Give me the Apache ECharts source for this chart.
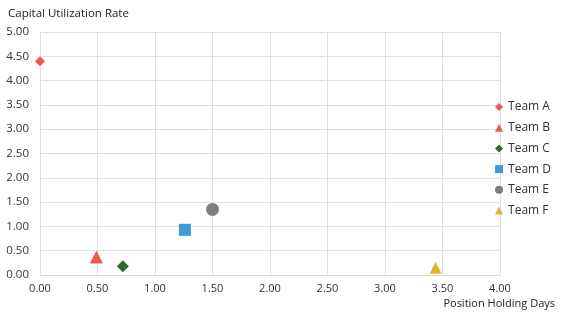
<!DOCTYPE html>
<html><head><meta charset="utf-8">
<script src="https://cdn.jsdelivr.net/npm/echarts@6/dist/echarts.min.js"></script>
<style>html,body{margin:0;padding:0;background:#fff}#c{width:562px;height:316px}</style>
</head><body><div id="c"></div>
<script>
const teams = ["Team A","Team B","Team C","Team D","Team E","Team F"];
const holdingDays = [0.00, 0.49, 0.72, 1.26, 1.50, 3.44];
const utilization = [4.40, 0.37, 0.18, 0.93, 1.35, 0.15];
const symbols = ["diamond","triangle","diamond","rect","circle","triangle"];
const sizes = [10, 13, 12, 12, 13, 12];
const colors = ["#EB5A50","#EB5A50","#2F6B2F","#3C9AD8","#808080","#E9B12F"];
const xTicks = {min:0, max:4, interval:0.5};
const yTicks = {min:0, max:5, interval:0.5};

const series = teams.map((t,i)=>({
  name:t, type:'scatter', symbol:symbols[i], symbolSize:sizes[i],
  itemStyle:{color:colors[i], opacity:1},
  data:[[holdingDays[i], utilization[i]]]
}));

const chart = echarts.init(document.getElementById('c'));
chart.setOption({
  animation:false,
  textStyle:{fontFamily:'"Open Sans", "Liberation Sans", sans-serif'},
  grid:{left:40, right:62, top:32, bottom:41},
  legend:{
    orient:'vertical', right:6, top:95, itemGap:6.7, itemWidth:8, itemHeight:8,
    textStyle:{color:'#333', fontSize:12, lineHeight:14},
    data:teams.map((t,i)=>({name:t, icon:symbols[i]}))
  },
  xAxis:{
    type:'value', min:xTicks.min, max:xTicks.max, interval:xTicks.interval,
    name:'Position Holding Days', nameLocation:'end', nameGap:0,
    nameTextStyle:{color:'#222', fontSize:11, align:'right', verticalAlign:'top', padding:[23,-55,0,0]},
    axisLine:{show:true, lineStyle:{color:'#d9d9d9'}},
    axisTick:{show:false},
    axisLabel:{color:'#333', fontSize:11, formatter:v=>v.toFixed(2), margin:8},
    splitLine:{show:true, lineStyle:{color:'#e0e0e0'}}
  },
  yAxis:{
    type:'value', min:yTicks.min, max:yTicks.max, interval:yTicks.interval,
    name:'Capital Utilization Rate', nameLocation:'end', nameGap:12,
    nameTextStyle:{color:'#222', fontSize:11.5, align:'left', padding:[0,0,0,-32]},
    axisLine:{show:false},
    axisTick:{show:false},
    axisLabel:{color:'#333', fontSize:11.5, formatter:v=>v.toFixed(2), margin:11},
    splitLine:{show:true, lineStyle:{color:'#e0e0e0'}}
  },
  series:series
});
</script></body></html>
